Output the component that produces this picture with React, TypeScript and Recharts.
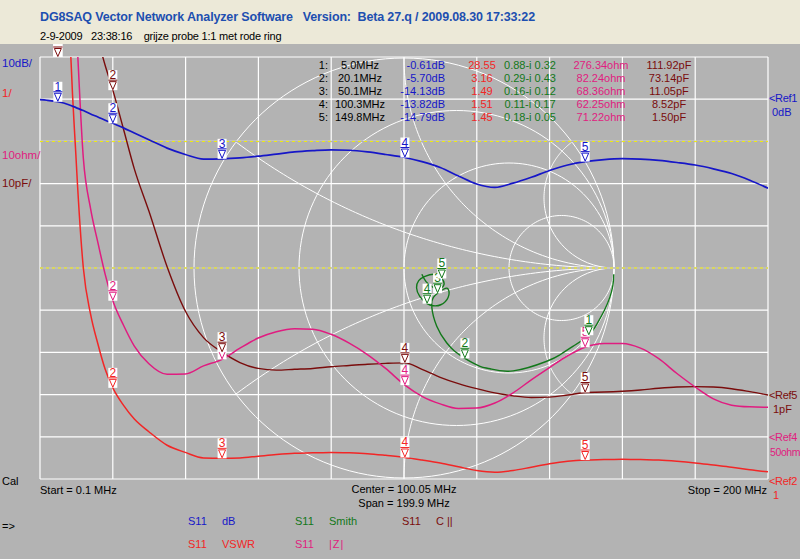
import React from "react";
import { ComposedChart, Line, XAxis, YAxis, CartesianGrid, ReferenceLine, ReferenceDot } from "recharts";

// sweep, MHz
const freq = [0.1, 2, 5, 8, 10, 12, 14, 16, 18, 20.1, 23, 26, 30, 35, 40, 45, 50.1, 55, 60, 65, 70, 75, 80, 85, 90, 95, 100.3, 105, 110, 115, 120, 125, 130, 135, 140, 145, 149.8, 155, 160, 165, 170, 175, 180, 185, 190, 195, 200];
const dbVals = [-0.1, -0.25, -0.61, -1.3, -2.0, -2.7, -3.5, -4.2, -5.0, -5.7, -6.8, -8.0, -9.6, -11.6, -13.1, -14.2, -14.13, -13.9, -13.5, -13.0, -12.5, -12.2, -12.0, -12.1, -12.5, -13.1, -13.82, -14.8, -16.2, -18.2, -20.1, -20.9, -19.9, -18.5, -16.9, -15.6, -14.79, -14.3, -14.1, -14.2, -14.5, -15.0, -15.6, -16.5, -17.6, -19.2, -21.1];
const vswrVals = [900, 90, 28.55, 12.5, 8.6, 6.0, 4.9, 4.2, 3.6, 3.16, 2.75, 2.42, 2.12, 1.8, 1.63, 1.5, 1.49, 1.5, 1.54, 1.58, 1.61, 1.62, 1.63, 1.62, 1.6, 1.56, 1.51, 1.45, 1.38, 1.29, 1.2, 1.16, 1.2, 1.28, 1.36, 1.42, 1.45, 1.46, 1.47, 1.46, 1.45, 1.42, 1.38, 1.33, 1.28, 1.22, 1.17];
const zVals = [3000, 700, 276.34, 175, 148, 116, 104, 96, 88.5, 82.24, 76.5, 71.5, 67.3, 64.8, 64.9, 66.8, 68.36, 71, 73.4, 74.9, 75.6, 75.5, 74.3, 72.2, 69.5, 66.2, 62.25, 59.6, 57.8, 56.7, 56.8, 58, 60.4, 63.5, 66.4, 69.2, 71.22, 72.1, 72.1, 71, 68.5, 65, 61.8, 59, 57.5, 57.1, 57];
const cVals = [600, 250, 111.92, 104, 99, 95, 90, 85, 79, 73.14, 64, 54.5, 44.5, 31.3, 20.8, 14.5, 11.05, 8.6, 7.2, 6.8, 7.0, 7.2, 7.6, 7.9, 8.2, 8.4, 8.52, 7.0, 5.1, 3.6, 2.4, 1.4, 0.7, 0.3, 0.4, 0.9, 1.5, 1.6, 1.8, 2.1, 2.5, 2.8, 2.9, 2.8, 2.4, 1.7, 0.9];

// S11 reflection coefficient
const smithFreq = [0.1, 1, 2, 3, 4, 5, 6.5, 8, 9.5, 12, 15, 17, 20.1, 23, 26, 32, 40, 45, 50.1, 57, 65, 75, 85, 92, 100.3, 110, 118, 126, 134, 142, 149.8, 160, 170, 180, 190, 200];
const smithRe = [0.999, 0.995, 0.98, 0.955, 0.92, 0.88, 0.806, 0.74, 0.68, 0.52, 0.41, 0.362, 0.29, 0.24, 0.203, 0.156, 0.132, 0.14, 0.16, 0.19, 0.21, 0.21, 0.175, 0.14, 0.11, 0.075, 0.06, 0.07, 0.1, 0.145, 0.18, 0.19, 0.165, 0.135, 0.105, 0.085];
const smithIm = [-0.03, -0.08, -0.14, -0.2, -0.265, -0.32, -0.372, -0.415, -0.444, -0.49, -0.48, -0.468, -0.43, -0.395, -0.356, -0.277, -0.182, -0.14, -0.12, -0.1, -0.1, -0.14, -0.175, -0.18, -0.17, -0.135, -0.095, -0.06, -0.04, -0.03, -0.05, -0.08, -0.1, -0.09, -0.065, -0.03];

// markers
const mkNo = [1, 2, 3, 4, 5];
const mkFreq = [5.0, 20.1, 50.1, 100.3, 149.8];
const mkDb = [-0.61, -5.7, -14.13, -13.82, -14.79];
const mkVswr = [28.55, 3.16, 1.49, 1.51, 1.45];
const mkRe = [0.88, 0.29, 0.16, 0.11, 0.18];
const mkIm = [-0.32, -0.43, -0.12, -0.17, -0.05];
const mkZ = [276.34, 82.24, 68.36, 62.25, 71.22];
const mkC = [111.92, 73.14, 11.05, 8.52, 1.5];

const xTicks = [0.1, 20.09, 40.08, 60.07, 80.06, 100.05, 120.04, 140.03, 160.02, 180.01, 200];
const dbTicks = [10, 0, -10, -20, -30, -40, -50, -60, -70, -80, -90];

const BLUE = "#1616c8";
const RED = "#f22626";
const PINK = "#e01c80";
const DRED = "#7a0c0c";
const GREEN = "#12781a";
const BG = "#b3b3b3";
const TOP = 57;

const rows = freq.map((f, i) => ({ f, db: dbVals[i], vswr: vswrVals[i], z: zVals[i], c: cVals[i] }));
const smithPts = smithFreq.map((f, i) => ({ f, re: smithRe[i], im: smithIm[i] }));

// smith chart grid geometry
const circle = (cx: number, cy: number, r: number) =>
  Array.from({ length: 145 }, (_, k) => {
    const a = (k / 144) * 2 * Math.PI;
    return { re: cx + r * Math.cos(a), im: cy + r * Math.sin(a) };
  });
const reactArc = (x: number) => {
  const pts = Array.from({ length: 90 }, (_, k) => {
    const r = Math.tan((k / 90) * (Math.PI / 2));
    const d = (r + 1) * (r + 1) + x * x;
    return { re: (r * r - 1 + x * x) / d, im: (2 * x) / d };
  });
  pts.push({ re: 1, im: 0 });
  return pts;
};
const smithGrid = [
  circle(0, 0, 1),
  ...[1 / 3, 1, 3].map((r) => circle(r / (1 + r), 0, 1 / (1 + r))),
  ...[1 / 3, 1, 3, -1 / 3, -1, -3].map(reactArc),
];

function Flag({ cx, cy, n, color }: { cx: number; cy: number; n: number; color: string }) {
  if (cx == null || cy == null || isNaN(cx) || isNaN(cy)) return null;
  const off = cy < TOP;
  const y = off ? TOP : cy;
  return (
    <g>
      <rect x={cx - 4.5} y={y - 20} width={9} height={20} fill="#fff" />
      {!off && (
        <text x={cx} y={y - 11} textAnchor="middle" fontSize={12} fill={color} fontFamily="Liberation Sans, Arial, sans-serif">
          {n}
        </text>
      )}
      <line x1={cx - 4.5} x2={cx + 4.5} y1={y - 10} y2={y - 10} stroke={color} strokeWidth={1} />
      <path d={`M${cx - 3.5},${y - 8.5} L${cx + 3.5},${y - 8.5} L${cx},${y - 0.5} Z`} fill="none" stroke={color} strokeWidth={1} />
    </g>
  );
}

function T({ x, y, color = "#000", size = 11, anchor = "start", bold = false, ls = 0, children }: any) {
  const tx = anchor === "middle" ? "-50%" : anchor === "end" ? "-100%" : "0";
  return (
    <div
      style={{
        position: "absolute",
        left: x,
        top: y - 7,
        height: 14,
        lineHeight: "14px",
        transform: `translateX(${tx})`,
        color,
        fontSize: size,
        fontWeight: bold ? "bold" : "normal",
        letterSpacing: ls,
        whiteSpace: "pre",
      }}
    >
      {children}
    </div>
  );
}

const traceMarkers = [
  { axis: "db", vals: mkDb, color: BLUE },
  { axis: "vswr", vals: mkVswr, color: RED },
  { axis: "z", vals: mkZ, color: PINK },
  { axis: "c", vals: mkC, color: DRED },
];

const rowY = [65, 78, 91, 104, 117];

export default function App() {
  return (
    <div
      style={{
        position: "absolute",
        left: 0,
        top: 0,
        width: 800,
        height: 559,
        overflow: "hidden",
        background: BG,
        fontFamily: "'Liberation Sans', Arial, sans-serif",
      }}
    >
      <div style={{ position: "absolute", left: 0, top: 0 }}>
        <ComposedChart width={800} height={559} data={rows} margin={{ top: 57, right: 32, bottom: 80, left: 40 }}>
          <XAxis xAxisId="f" dataKey="f" type="number" domain={[0.1, 200]} ticks={xTicks} allowDataOverflow hide />
          <XAxis xAxisId="re" dataKey="re" type="number" domain={[-1.7333, 1.7333]} allowDataOverflow hide />
          <YAxis yAxisId="db" type="number" domain={[-90, 10]} ticks={dbTicks} allowDataOverflow hide />
          <YAxis yAxisId="vswr" type="number" domain={[1, 11]} allowDataOverflow hide />
          <YAxis yAxisId="z" type="number" domain={[40, 140]} allowDataOverflow hide />
          <YAxis yAxisId="c" type="number" domain={[-19, 81]} allowDataOverflow hide />
          <YAxis yAxisId="im" type="number" domain={[-1.0048, 1.0048]} allowDataOverflow hide />
          <CartesianGrid xAxisId="f" yAxisId="db" stroke="#ffffff" strokeWidth={1.2} strokeOpacity={1} fill="none" />
          {smithGrid.map((pts, i) => (
            <Line
              key={"g" + i}
              xAxisId="re"
              yAxisId="im"
              data={pts}
              dataKey="im"
              type="linear"
              stroke="#ffffff"
              strokeWidth={1}
              dot={false}
              activeDot={false}
              isAnimationActive={false}
            />
          ))}
          <ReferenceLine xAxisId="f" yAxisId="db" y={-10} stroke={BG} strokeWidth={1.5} />
          <ReferenceLine xAxisId="f" yAxisId="db" y={-40} stroke={BG} strokeWidth={1.5} />
          <ReferenceLine xAxisId="f" yAxisId="db" y={-10} stroke="#f4f000" strokeDasharray="3 3" strokeWidth={1} />
          <ReferenceLine xAxisId="f" yAxisId="db" y={-40} stroke="#f4f000" strokeDasharray="3 3" strokeWidth={1} />
          <Line xAxisId="re" yAxisId="im" data={smithPts} dataKey="im" type="natural" stroke={GREEN} strokeWidth={1.4} dot={false} activeDot={false} isAnimationActive={false} />
          <Line xAxisId="f" yAxisId="c" dataKey="c" type="monotone" stroke={DRED} strokeWidth={1.4} dot={false} activeDot={false} isAnimationActive={false} />
          <Line xAxisId="f" yAxisId="z" dataKey="z" type="monotone" stroke={PINK} strokeWidth={1.5} dot={false} activeDot={false} isAnimationActive={false} />
          <Line xAxisId="f" yAxisId="vswr" dataKey="vswr" type="monotone" stroke={RED} strokeWidth={1.5} dot={false} activeDot={false} isAnimationActive={false} />
          <Line xAxisId="f" yAxisId="db" dataKey="db" type="monotone" stroke={BLUE} strokeWidth={1.7} dot={false} activeDot={false} isAnimationActive={false} />
          {traceMarkers.map((t) =>
            mkFreq.map((f, i) => (
              <ReferenceDot
                key={t.axis + i}
                xAxisId="f"
                yAxisId={t.axis}
                x={f}
                y={t.vals[i]}
                ifOverflow="visible"
                shape={(p: any) => <Flag cx={p.cx} cy={p.cy} n={mkNo[i]} color={t.color} />}
              />
            ))
          )}
          {mkRe.map((re, i) => (
            <ReferenceDot
              key={"s" + i}
              xAxisId="re"
              yAxisId="im"
              x={re}
              y={mkIm[i]}
              ifOverflow="visible"
              shape={(p: any) => <Flag cx={p.cx} cy={p.cy} n={mkNo[i]} color={GREEN} />}
            />
          ))}
        </ComposedChart>
      </div>

      {/* marker readout */}
      {mkNo.map((n, i) => (
        <React.Fragment key={"r" + n}>
          <T x={328} y={rowY[i]} anchor="end">{n + ":"}</T>
          <T x={360} y={rowY[i]} anchor="middle">{mkFreq[i].toFixed(1) + "MHz"}</T>
          <T x={445} y={rowY[i]} anchor="end" color={BLUE}>{mkDb[i].toFixed(2) + "dB"}</T>
          <T x={482} y={rowY[i]} anchor="middle" color={RED}>{mkVswr[i].toFixed(2)}</T>
          <T x={530} y={rowY[i]} anchor="middle" color={GREEN}>
            {mkRe[i].toFixed(2) + "-i " + Math.abs(mkIm[i]).toFixed(2)}
          </T>
          <T x={601} y={rowY[i]} anchor="middle" color={PINK}>{mkZ[i].toFixed(2) + "ohm"}</T>
          <T x={669} y={rowY[i]} anchor="middle" color={DRED}>{mkC[i].toFixed(2) + "pF"}</T>
        </React.Fragment>
      ))}

      {/* scale labels */}
      <T x={2} y={63} color={BLUE} size={11.5}>10dB/</T>
      <T x={2} y={93} color={RED} size={11.5}>1/</T>
      <T x={2} y={155} color={PINK} size={11.5}>10ohm/</T>
      <T x={2} y={183} color={DRED} size={11.5}>10pF/</T>

      <T x={769} y={98} color={BLUE} ls={-0.3}>{"<Ref1"}</T>
      <T x={772} y={112} color={BLUE}>0dB</T>
      <T x={769} y={395} color={DRED} ls={-0.3}>{"<Ref5"}</T>
      <T x={773} y={409} color={DRED}>1pF</T>
      <T x={769} y={437} color={PINK} ls={-0.3}>{"<Ref4"}</T>
      <T x={770} y={452} color={PINK} size={10.5} ls={-0.4}>50ohm</T>
      <T x={769} y={481} color={RED} ls={-0.3}>{"<Ref2"}</T>
      <T x={773} y={495} color={RED}>1</T>

      <T x={2} y={481}>Cal</T>
      <T x={40} y={490}>Start = 0.1 MHz</T>
      <T x={404} y={489} anchor="middle">Center = 100.05 MHz</T>
      <T x={404} y={503} anchor="middle">Span = 199.9 MHz</T>
      <T x={767} y={490} anchor="end">Stop = 200 MHz</T>
      <T x={2} y={526}>{"=>"}</T>

      {/* trace legend */}
      <T x={188} y={521} color={BLUE}>S11</T>
      <T x={222} y={521} color={BLUE}>dB</T>
      <T x={295} y={521} color={GREEN}>S11</T>
      <T x={329} y={521} color={GREEN}>Smith</T>
      <T x={402} y={521} color={DRED}>S11</T>
      <T x={436} y={521} color={DRED}>{"C ||"}</T>
      <T x={188} y={544} color={RED}>S11</T>
      <T x={222} y={544} color={RED}>VSWR</T>
      <T x={295} y={544} color={PINK}>S11</T>
      <T x={329} y={544} color={PINK} ls={1}>{"|Z|"}</T>

      {/* header */}
      <div style={{ position: "absolute", left: 0, top: 0, width: 800, height: 44, background: "#ece9d8" }}>
        <T x={40} y={17} color="#1d4fb0" size={12.5} bold ls={-0.15}>
          {"DG8SAQ Vector Network Analyzer Software   Version:  Beta 27.q / 2009.08.30 17:33:22"}
        </T>
        <T x={40} y={36} size={11} ls={-0.2}>{"2-9-2009   23:38:16    grijze probe 1:1 met rode ring"}</T>
      </div>
    </div>
  );
}
